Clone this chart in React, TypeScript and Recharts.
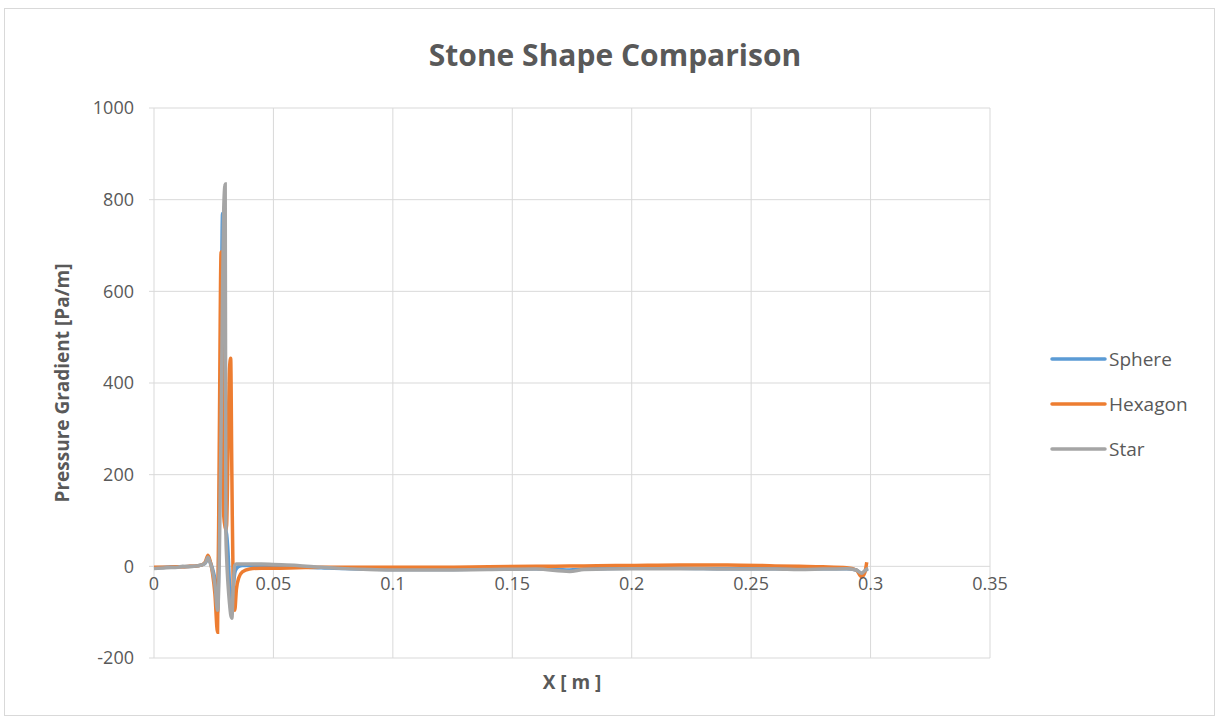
import React from 'react';
import { LineChart, Line, XAxis, YAxis, CartesianGrid, Label } from 'recharts';

const xValues = [
  0, 0.005, 0.01, 0.012, 0.015, 0.018, 0.02, 0.0215, 0.0226, 0.0235, 0.0245, 0.0255, 0.0266, 0.0273,
  0.0281, 0.0287, 0.0292, 0.0298, 0.0301, 0.0304, 0.031, 0.0316, 0.0321, 0.0326, 0.0332, 0.0338, 0.0345,
  0.0355, 0.037, 0.04, 0.045, 0.05, 0.06, 0.07, 0.08, 0.09, 0.1, 0.12, 0.14, 0.16, 0.174, 0.18, 0.2, 0.22,
  0.24, 0.26, 0.27, 0.28, 0.29, 0.294, 0.2963, 0.2975, 0.2984, 0.299,
];

const sphere = [
  -3, -2, -1, -1, 0, 1, 3, 7, 18, 10, -5, -30, -100, 100,
  500, 770, 600, 200, 80, 70, 30, -40, -90, -105, -50, -15, -5,
  0, 2, 2, 1, 0, -1, -3, -5, -6, -7, -7, -6, -5, -8, -6, -4, -4,
  -5, -5, -6, -5, -5, -8, -15, -12, -7, -6,
];

const hexagon = [
  -2, -2, -1, -1, 0, 1, 3, 10, 24, 12, -15, -60, -144, 250,
  686, 300, 110, 85, 80, 90, 250, 430, 454, 200, -60, -96, -50,
  -25, -12, -6, -4, -4, -3, -2, -2, -2, -2, -2, -1, 0, 1, 1, 2, 3,
  3, 1, 0, -1, -3, -8, -23, -15, 9, null,
];

const star = [
  -5, -3, -2, 0, -1, 1, 3, 8, 20, 8, -10, -40, -96, 0,
  300, 600, 780, 834, 72, 20, -40, -80, -105, -113, -40, 2, 5,
  5, 5, 5, 5, 4, 2, -2, -5, -7, -8, -8, -7, -6, -11, -7, -5, -5,
  -6, -6, -7, -6, -5, -8, -15, -10, -6, -5,
];

const xTicks = [0, 0.05, 0.1, 0.15, 0.2, 0.25, 0.3, 0.35];
const yTicks = [-200, 0, 200, 400, 600, 800, 1000];

const seriesDefs = [
  { key: 'Sphere', color: '#5B9BD5', values: sphere },
  { key: 'Hexagon', color: '#ED7D31', values: hexagon },
  { key: 'Star', color: '#A5A5A5', values: star },
];

const data = xValues.map((x, i) => {
  const row: Record<string, number | null> = { x };
  seriesDefs.forEach((s) => {
    row[s.key] = s.values[i];
  });
  return row;
});

const FONT = '"Open Sans", "Liberation Sans", sans-serif';
const TEXT_COLOR = '#595959';
const GRID = '#D9D9D9';

const PLOT_TOP = 108;
const PLOT_H = 550;
const Y_MIN = -200;
const Y_MAX = 1000;
const ZERO_Y = PLOT_TOP + (PLOT_H * (Y_MAX - 0)) / (Y_MAX - Y_MIN);

const fmtX = (v: number) => String(parseFloat(v.toFixed(3)));

const XTick = (props: any) => {
  const { x, payload } = props;
  return (
    <text
      x={x}
      y={ZERO_Y + 17}
      textAnchor="middle"
      dominantBaseline="central"
      fill={TEXT_COLOR}
      fontSize={18}
      fontFamily={FONT}
    >
      {fmtX(payload.value)}
    </text>
  );
};

const XTitle = (props: any) => {
  const vb = props.viewBox || {};
  return (
    <text
      x={vb.x + vb.width / 2}
      y={vb.y + 24}
      textAnchor="middle"
      dominantBaseline="central"
      fill={TEXT_COLOR}
      fontSize={19}
      fontWeight="bold"
      fontFamily={FONT}
    >
      X [ m ]
    </text>
  );
};

const YTitle = (props: any) => {
  const vb = props.viewBox || {};
  const cx = vb.x + 62;
  const cy = vb.y + vb.height / 2;
  return (
    <text
      x={cx}
      y={cy}
      transform={`rotate(-90, ${cx}, ${cy})`}
      textAnchor="middle"
      dominantBaseline="central"
      fill={TEXT_COLOR}
      fontSize={19}
      fontWeight="bold"
      fontFamily={FONT}
    >
      Pressure Gradient [Pa/m]
    </text>
  );
};

const LegendBox = () => (
  <div style={{ position: 'absolute', left: 1050, top: 336, width: 165, fontFamily: FONT }}>
    {seriesDefs.map((s) => (
      <div key={s.key} style={{ display: 'flex', alignItems: 'center', height: 45 }}>
        <svg width={59} height={6} style={{ display: 'block' }}>
          <line x1={2} y1={3} x2={55} y2={3} stroke={s.color} strokeWidth={3.5} strokeLinecap="round" />
        </svg>
        <span style={{ color: TEXT_COLOR, fontSize: 19, lineHeight: '20px' }}>{s.key}</span>
      </div>
    ))}
  </div>
);

export default function App() {
  return (
    <div style={{ position: 'absolute', left: 0, top: 0, width: 1217, height: 720, background: '#fff' }}>
      <div
        style={{
          position: 'absolute',
          left: 4,
          top: 8,
          width: 1211,
          height: 708,
          border: `1px solid ${GRID}`,
          boxSizing: 'border-box',
        }}
      />
      <div
        style={{
          position: 'absolute',
          left: 0,
          width: 1230,
          top: 35,
          textAlign: 'center',
          fontFamily: FONT,
          fontWeight: 'bold',
          fontSize: 30,
          lineHeight: '40px',
          color: TEXT_COLOR,
        }}
      >
        Stone Shape Comparison
      </div>
      <div style={{ position: 'absolute', left: 0, top: 0 }}>
        <LineChart
          width={1217}
          height={720}
          data={data}
          margin={{ top: PLOT_TOP, right: 227, bottom: 0, left: 0 }}
        >
          <CartesianGrid stroke={GRID} strokeWidth={1} />
          <XAxis
            dataKey="x"
            type="number"
            domain={[0, 0.35]}
            ticks={xTicks}
            interval={0}
            height={62}
            axisLine={false}
            tickLine={false}
            tick={<XTick />}
          >
            <Label content={<XTitle />} />
          </XAxis>
          <YAxis
            type="number"
            domain={[Y_MIN, Y_MAX]}
            ticks={yTicks}
            interval={0}
            width={154}
            axisLine={false}
            tickLine={{ stroke: GRID }}
            tickSize={5}
            tickMargin={15}
            tick={{ fill: TEXT_COLOR, fontSize: 18, fontFamily: FONT }}
          >
            <Label content={<YTitle />} />
          </YAxis>
          {seriesDefs.map((s) => (
            <Line
              key={s.key}
              dataKey={s.key}
              type="monotone"
              stroke={s.color}
              strokeWidth={3.5}
              dot={false}
              activeDot={false}
              connectNulls={false}
              isAnimationActive={false}
            />
          ))}
        </LineChart>
      </div>
      <LegendBox />
    </div>
  );
}
